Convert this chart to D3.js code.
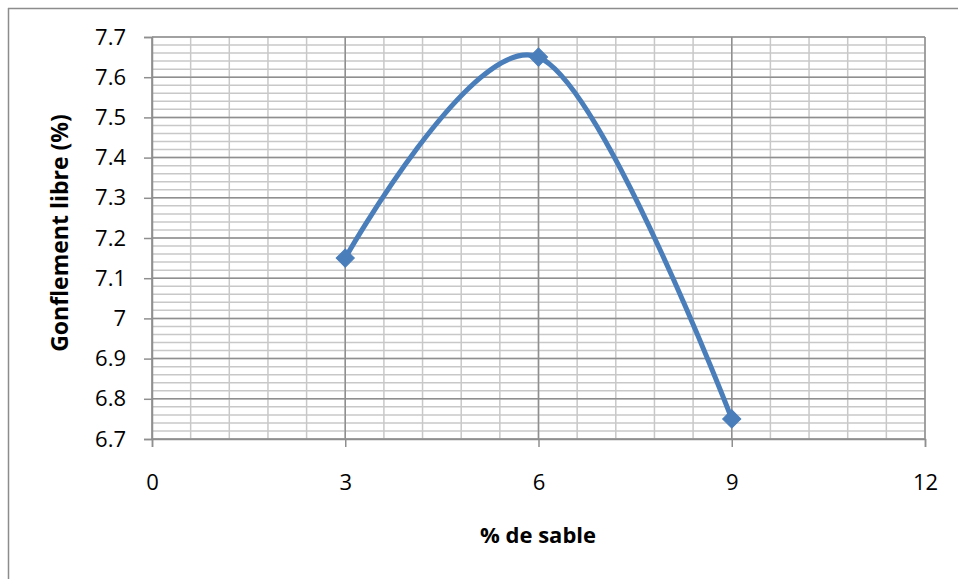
<!DOCTYPE html>
<html><head><meta charset="utf-8">
<script src="https://cdn.jsdelivr.net/npm/d3@7"></script>
<style>body{margin:0;background:#fff}svg{display:block}</style>
</head><body>
<svg id="c" width="958" height="579"></svg>
<script>
const sablePct = [3, 6, 9];
const gonflement = [7.15, 7.65, 6.75];
const xTicks = [0, 3, 6, 9, 12];
const yTicks = [6.7, 6.8, 6.9, 7.0, 7.1, 7.2, 7.3, 7.4, 7.5, 7.6, 7.7];
const xTitle = "% de sable";
const yTitle = "Gonflement libre (%)";

const svg = d3.select("#c");
const font = "'Open Sans', 'Noto Sans', sans-serif";
const L = 152, R = 925, T = 37, B = 439;
const x = d3.scaleLinear().domain([0, 12]).range([L, R]);
const y = d3.scaleLinear().domain([6.7, 7.7]).range([B, T]);

// outer frame (top and left)
svg.append("line").attr("x1", 8).attr("x2", 958).attr("y1", 8.5).attr("y2", 8.5).attr("stroke", "#8c8c8c").attr("stroke-width", 1.5);
svg.append("line").attr("x1", 8.5).attr("x2", 8.5).attr("y1", 8).attr("y2", 579).attr("stroke", "#8c8c8c").attr("stroke-width", 1.5);

const g = svg.append("g");
const xMinor = d3.range(0, 12.0001, 0.6);
const yMinor = d3.range(6.7, 7.7001, 0.02);
g.selectAll(".xm").data(xMinor).enter().append("line")
  .attr("x1", d => x(d)).attr("x2", d => x(d)).attr("y1", T).attr("y2", B)
  .attr("stroke", "#c8c8c8").attr("stroke-width", 1.5);
g.selectAll(".ym").data(yMinor).enter().append("line")
  .attr("x1", L).attr("x2", R).attr("y1", d => y(d)).attr("y2", d => y(d))
  .attr("stroke", "#c8c8c8").attr("stroke-width", 1.5);
g.selectAll(".xM").data(xTicks).enter().append("line")
  .attr("x1", d => x(d)).attr("x2", d => x(d)).attr("y1", T).attr("y2", B)
  .attr("stroke", "#8f8f8f").attr("stroke-width", 1.5);
g.selectAll(".yM").data(yTicks).enter().append("line")
  .attr("x1", L).attr("x2", R).attr("y1", d => y(d)).attr("y2", d => y(d))
  .attr("stroke", "#8f8f8f").attr("stroke-width", 1.5);

const yAxis = d3.axisLeft(y).tickValues(yTicks).tickSize(8).tickPadding(18)
  .tickFormat(d => d3.format("")(+d.toFixed(1)));
const ya = svg.append("g").attr("transform", `translate(${L},0)`).call(yAxis);
const xAxis = d3.axisBottom(x).tickValues(xTicks).tickSize(8).tickPadding(27);
const xa = svg.append("g").attr("transform", `translate(0,${B})`).call(xAxis);
[ya, xa].forEach(a => {
  a.attr("font-size", null).attr("font-family", null);
  a.select(".domain").attr("stroke", "#8f8f8f").attr("stroke-width", 1.5);
  a.selectAll(".tick line").attr("stroke", "#8f8f8f").attr("stroke-width", 1.5);
  a.selectAll("text").style("font-family", font).style("font-size", "22px").attr("fill", "#000");
});

const pts = sablePct.map((d, i) => [d, gonflement[i]]);
const line = d3.line().x(d => x(d[0])).y(d => y(d[1])).curve(d3.curveCardinal.tension(0));
svg.append("path").attr("d", line(pts)).attr("fill", "none")
  .attr("stroke", "#4a7ebb").attr("stroke-width", 5).attr("stroke-linecap", "round");
svg.selectAll(".mk").data(pts).enter().append("path")
  .attr("d", d3.symbol().type(d3.symbolSquare).size(165))
  .attr("transform", d => `translate(${x(d[0])},${y(d[1])}) rotate(45)`)
  .attr("fill", "#4a7ebb").attr("stroke", "#4a7ebb").attr("stroke-width", 1);

svg.append("text").attr("x", 538).attr("y", 543).attr("text-anchor", "middle")
  .style("font-family", font).style("font-size", "22px").attr("font-weight", "bold").text(xTitle);
svg.append("text").attr("transform", `translate(68,233) rotate(-90)`).attr("text-anchor", "middle")
  .style("font-family", font).style("font-size", "23px").attr("font-weight", "bold").text(yTitle);
</script>
</body></html>
